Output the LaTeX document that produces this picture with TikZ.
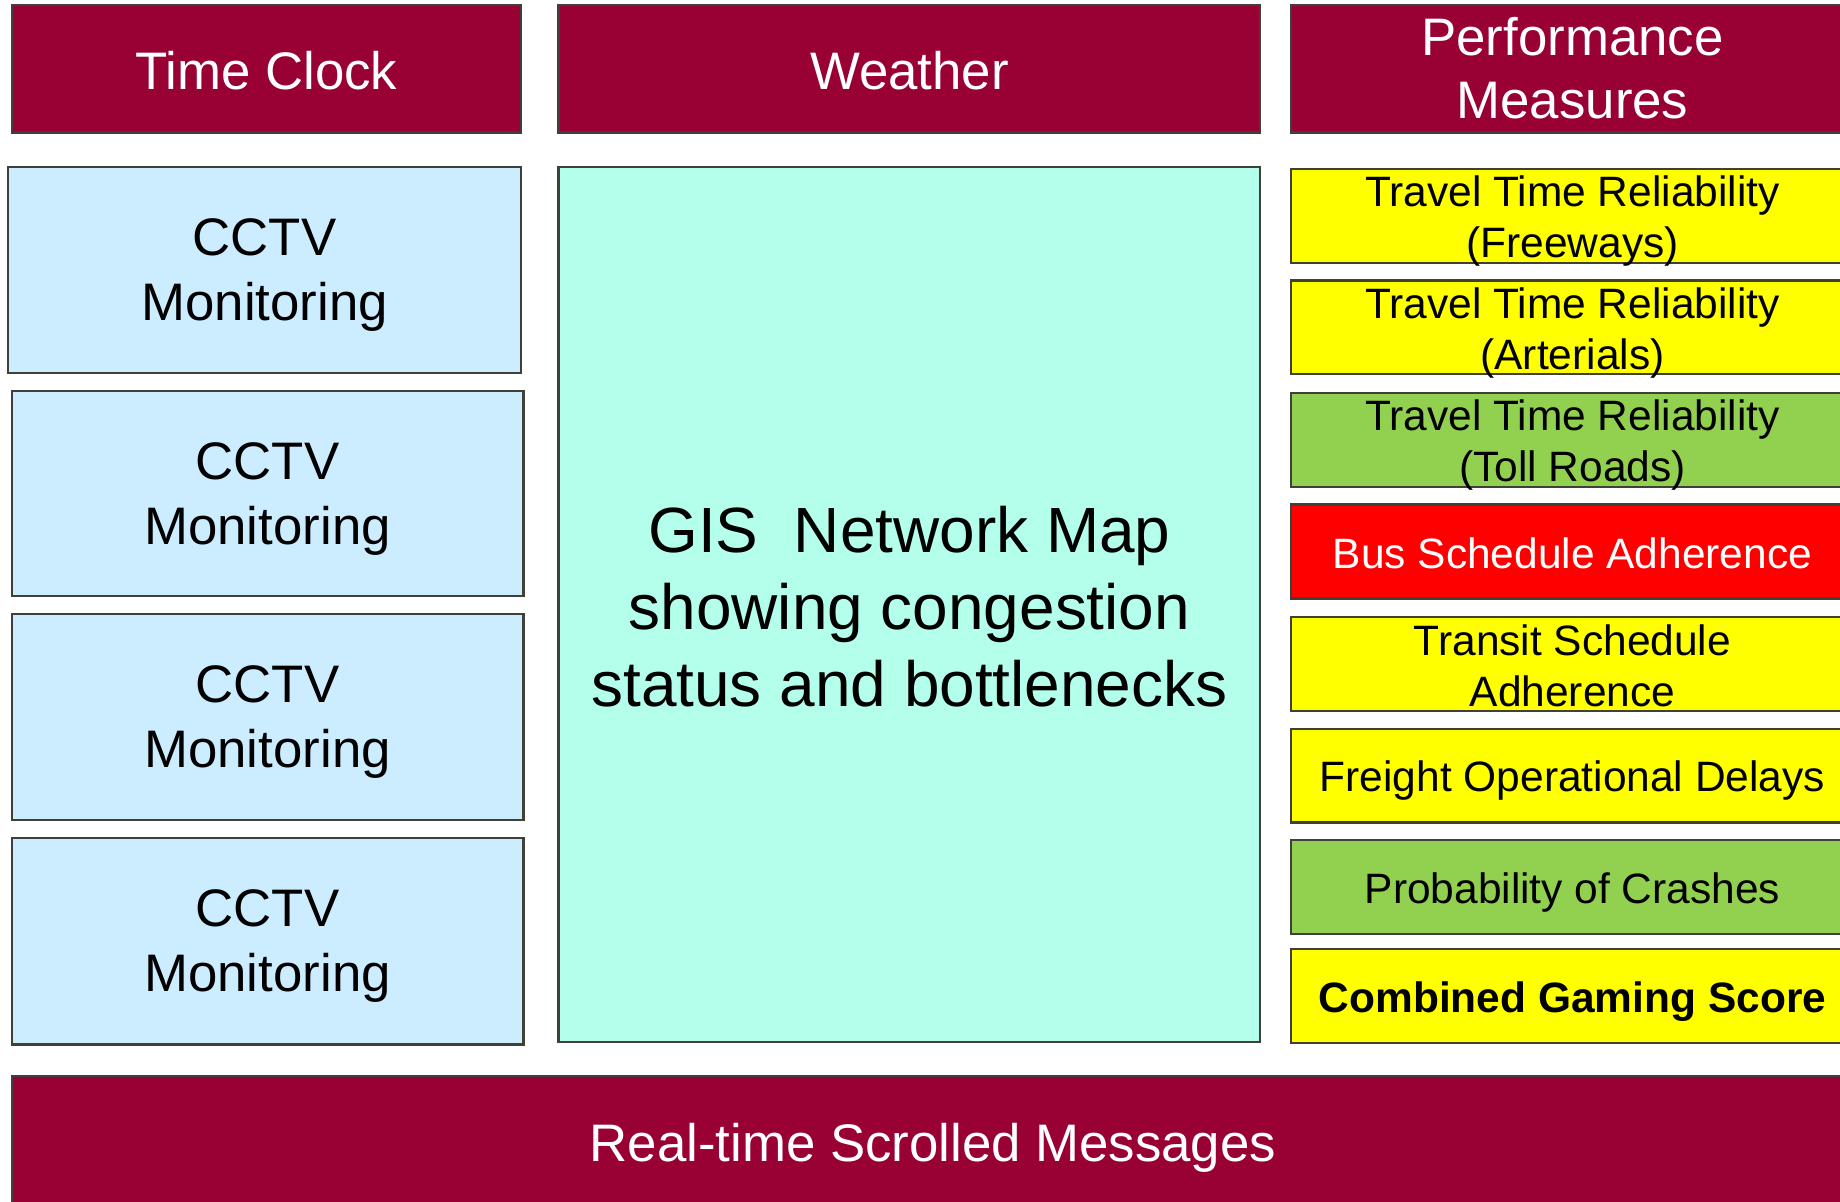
\documentclass[tikz,border=0pt]{standalone}
\usepackage{fontspec}
\setmainfont{Liberation Sans}
\definecolor{wine}{HTML}{990033}
\definecolor{camblue}{HTML}{CCECFF}
\definecolor{mapaqua}{HTML}{B3FFEC}
\definecolor{pmyellow}{HTML}{FFFF00}
\definecolor{pmgreen}{HTML}{92D050}
\definecolor{pmred}{HTML}{FF0000}
\definecolor{edge}{HTML}{404038}
\begin{document}
\begin{tikzpicture}[
 every node/.style={yshift=-0.045cm},
 up/.style={yshift=0.03cm},
 panel/.style={draw=edge,line width=0.55pt},
 hdr/.style={panel,fill=wine,text=white,align=center,font=\fontsize{12.8}{15.4}\selectfont},
 cam/.style={panel,fill=camblue,align=center,font=\fontsize{12.8}{15.8}\selectfont},
 pm/.style={panel,align=center,font=\fontsize{10.3}{12.4}\selectfont}]
 \useasboundingbox (0,0) rectangle (15.68,-10.24);
 \clip (0,0) rectangle (15.68,-10.24);
 % top bar
 \draw[hdr](0.10,-0.04) rectangle node[up] (clock) {Time Clock} (4.44,-1.13);
 \draw[hdr](4.76,-0.04) rectangle node[up] (weather) {Weather} (10.74,-1.13);
 \draw[hdr](11.00,-0.04) rectangle node[up,yshift=0.02cm] (perf) {Performance\\Measures} (15.80,-1.13);
 % cameras
 \draw[cam](0.07,-1.42) rectangle node (cam1) {CCTV\\Monitoring} (4.44,-3.18);
 \draw[cam](0.10,-3.33) rectangle node (cam2) {CCTV\\Monitoring} (4.46,-5.08);
 \draw[cam](0.10,-5.23) rectangle node (cam3) {CCTV\\Monitoring} (4.46,-6.99);
 \draw[cam](0.10,-7.14) rectangle node (cam4) {CCTV\\Monitoring} (4.46,-8.90);
 % map
 \draw[panel,fill=mapaqua](4.76,-1.42) rectangle node[yshift=0.025cm,align=center,font=\fontsize{15.5}{18.6}\selectfont] (gis)
  {GIS\ \ Network Map\\showing congestion\\status and bottlenecks} (10.74,-8.88);
 % measures
 \draw[pm,fill=pmyellow](11.00,-1.44) rectangle node (ttrfwy) {Travel Time Reliability\\(Freeways)} (15.80,-2.24);
 \draw[pm,fill=pmyellow](11.00,-2.39) rectangle node (ttrart) {Travel Time Reliability\\(Arterials)} (15.80,-3.19);
 \draw[pm,fill=pmgreen](11.00,-3.35) rectangle node (ttrtoll) {Travel Time Reliability\\(Toll Roads)} (15.80,-4.15);
 \draw[pm,fill=pmred,text=white](11.00,-4.30) rectangle node[up] (bus) {Bus Schedule Adherence} (15.80,-5.10);
 \draw[pm,fill=pmyellow](11.00,-5.26) rectangle node[up] (transit) {Transit Schedule\\Adherence} (15.80,-6.06);
 \draw[pm,fill=pmyellow](11.00,-6.21) rectangle node (freight) {Freight Operational Delays} (15.80,-7.01);
 \draw[pm,fill=pmgreen](11.00,-7.16) rectangle node (crash) {Probability of Crashes} (15.80,-7.96);
 \draw[pm,fill=pmyellow](11.00,-8.09) rectangle node[font=\fontsize{10.3}{12.4}\selectfont\bfseries] (score) {Combined Gaming Score} (15.80,-8.89);
 % messages
 \draw[hdr](0.10,-9.17) rectangle node (msgs) {Real-time Scrolled Messages} (15.80,-10.30);
\end{tikzpicture}
\end{document}
